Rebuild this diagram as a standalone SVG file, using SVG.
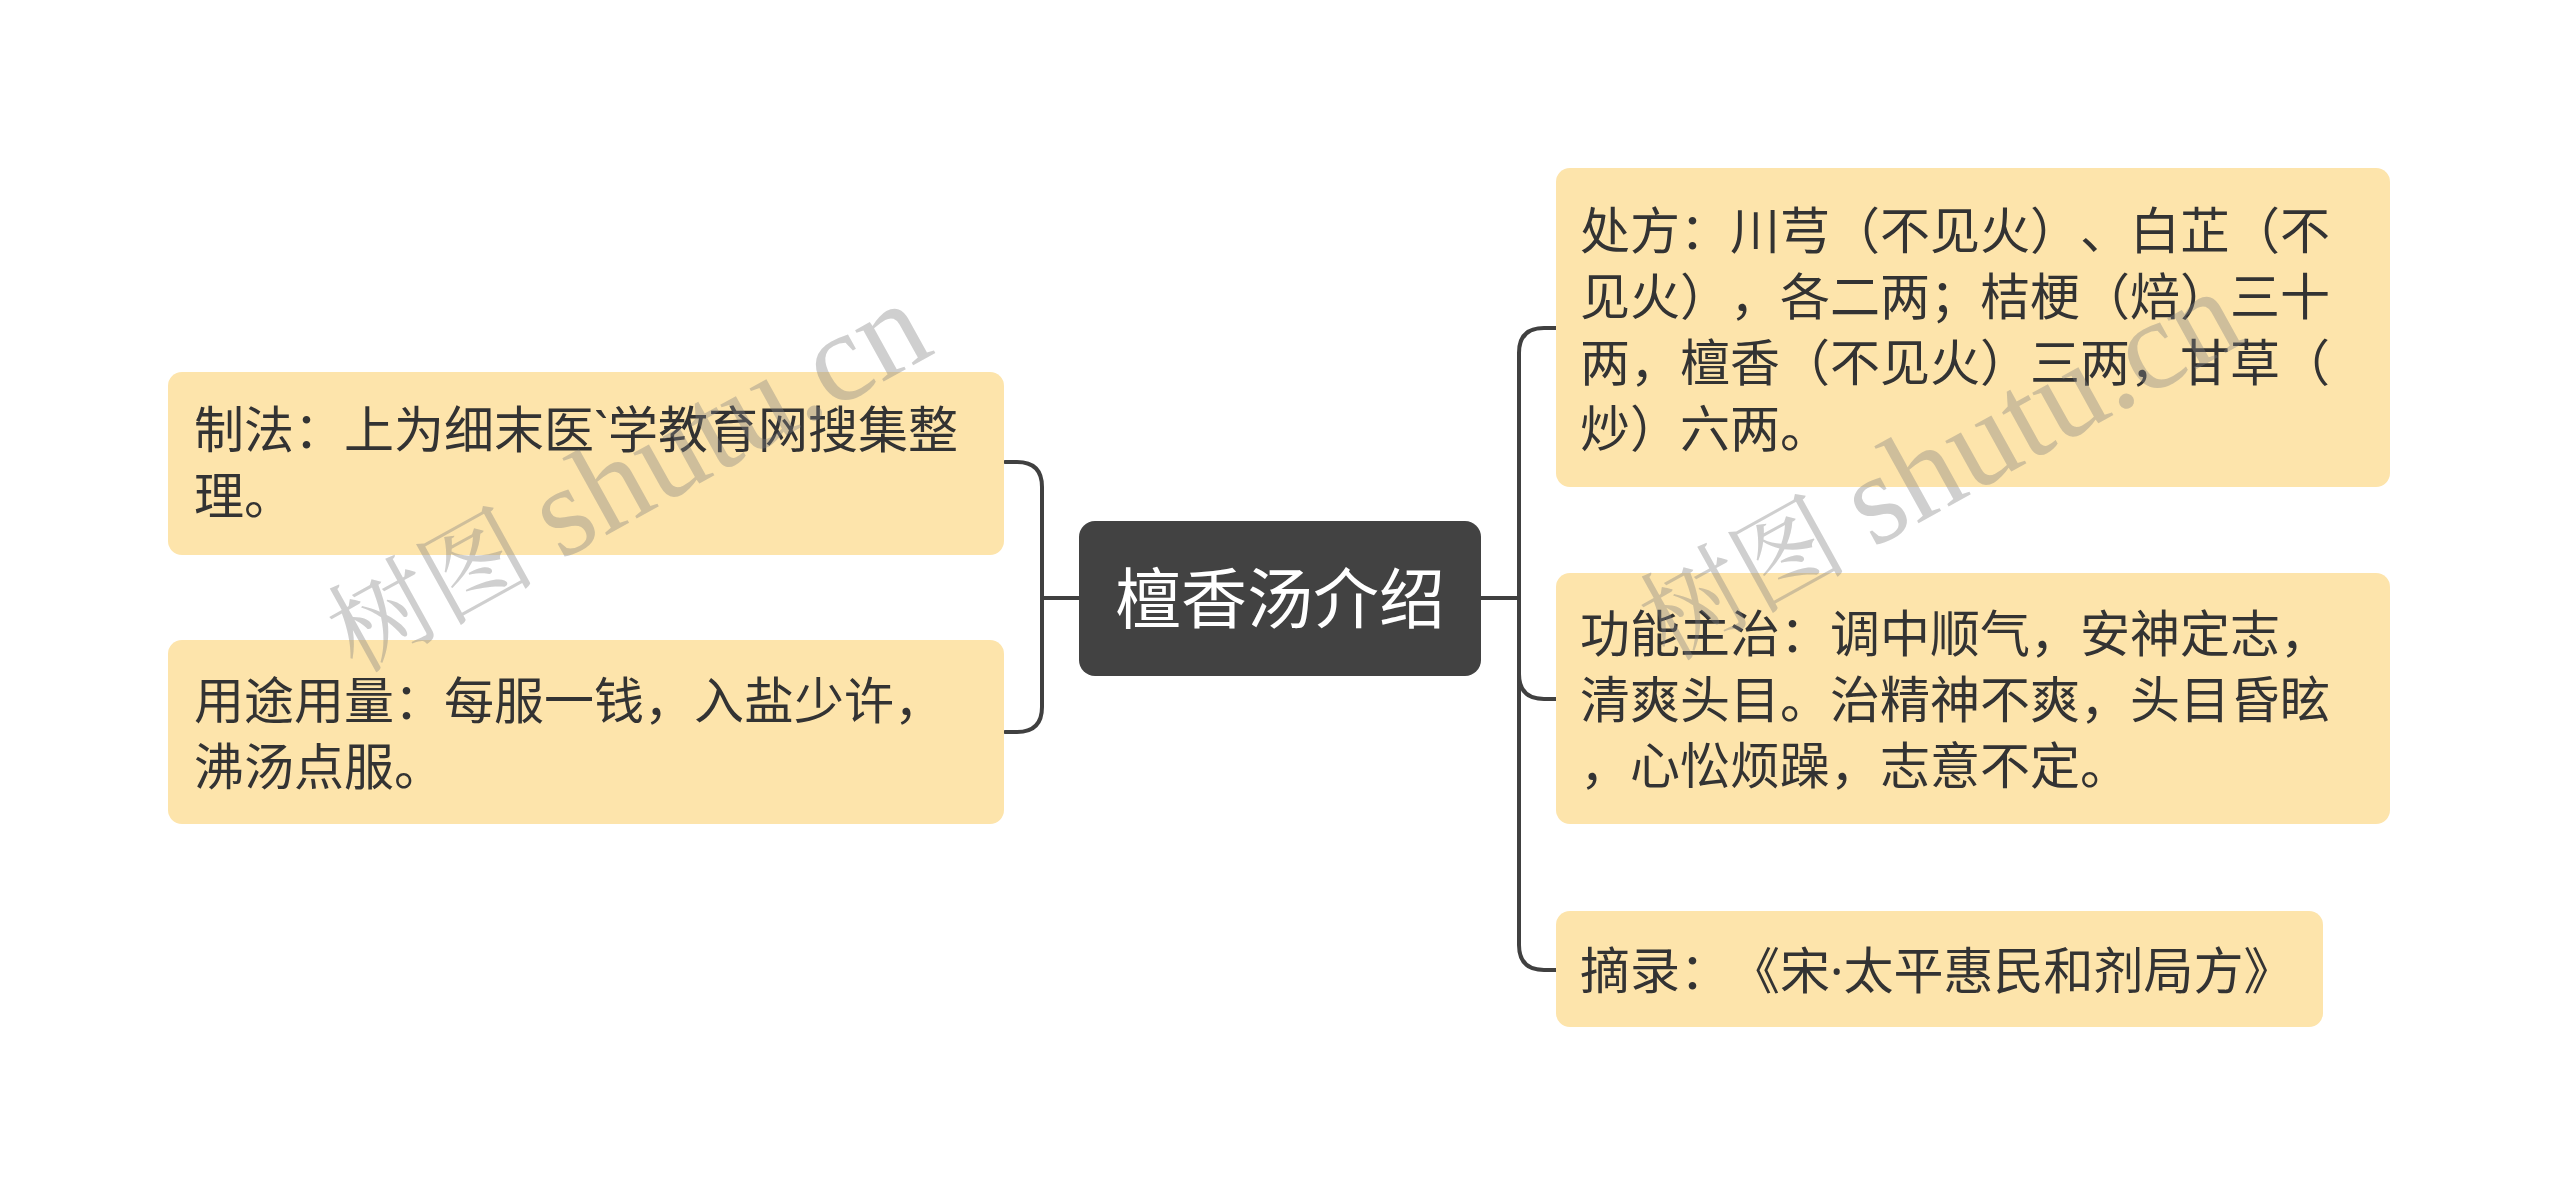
<svg xmlns="http://www.w3.org/2000/svg" width="2560" height="1196" viewBox="0 0 2560 1196">
<style>
.box{fill:#FDE4AB;}
.t{font-family:"Noto Sans CJK SC","Noto Sans",sans-serif;font-size:50px;fill:#333333;text-spacing-trim:space-all;font-feature-settings:"chws" 0,"halt" 0;}
.n{font-family:"Noto Sans","Liberation Sans",sans-serif;}
.ct{font-family:"Noto Sans CJK SC","Noto Sans",sans-serif;font-size:66px;fill:#ffffff;}
.conn{fill:none;stroke:#404040;stroke-width:4;stroke-linecap:round;}
.wm{font-family:"Liberation Serif","Noto Serif CJK SC","Noto Sans CJK SC",serif;font-size:104px;fill:#808080;fill-opacity:0.38;}
.wl{font-size:128px;}
</style>
<rect width="2560" height="1196" fill="#ffffff"/>
<g id="connectors">
<path class="conn" d="M1079,598 H1042"/>
<path class="conn" d="M1005,462 H1017 Q1042,462 1042,487 V707 Q1042,732 1017,732 H1005"/>
<path class="conn" d="M1481,598 H1519"/>
<path class="conn" d="M1556,328 H1544 Q1519,328 1519,353 V945 Q1519,970 1544,970 H1556"/>
<path class="conn" d="M1519,674 Q1519,699 1544,699 H1556"/>
</g>
<g id="center">
<rect x="1079" y="521" width="402" height="155" rx="16" fill="#424242"/>
<text class="ct" x="1280" y="623" text-anchor="middle">檀香汤介绍</text>
</g>
<g id="left1">
<rect class="box" x="168" y="372" width="836" height="183" rx="14"/>
<text class="t" x="194" y="448">制法：上为细末医<tspan class="n">`</tspan>学教育网搜集整</text>
<text class="t" x="194" y="514">理。</text>
</g>
<g id="left2">
<rect class="box" x="168" y="640" width="836" height="184" rx="14"/>
<text class="t" x="194" y="719">用途用量：每服一钱，入盐少许，</text>
<text class="t" x="194" y="785">沸汤点服。</text>
</g>
<g id="right1">
<rect class="box" x="1556" y="168" width="834" height="319" rx="14"/>
<text class="t" x="1580" y="249">处方：川芎（不见火）、白芷（不</text>
<text class="t" x="1580" y="315">见火），各二两；桔梗（焙）三十</text>
<text class="t" x="1580" y="381">两，檀香（不见火）三两，甘草（</text>
<text class="t" x="1580" y="447">炒）六两。</text>
</g>
<g id="right2">
<rect class="box" x="1556" y="573" width="834" height="251" rx="14"/>
<text class="t" x="1580" y="652">功能主治：调中顺气，安神定志，</text>
<text class="t" x="1580" y="718">清爽头目。治精神不爽，头目昏眩</text>
<text class="t" x="1580" y="784">，心忪烦躁，志意不定。</text>
</g>
<g id="right3">
<rect class="box" x="1556" y="911" width="767" height="116" rx="14"/>
<text class="t" x="1580" y="989">摘录：《宋<tspan class="n">·</tspan>太平惠民和剂局方》</text>
</g>
<g id="watermarks">
<text class="wm" transform="translate(356,674) rotate(-29)">树图 <tspan class="wl">shutu.cn</tspan></text>
<text class="wm" transform="translate(1668,662) rotate(-29)">树图 <tspan class="wl">shutu.cn</tspan></text>
</g>
</svg>
